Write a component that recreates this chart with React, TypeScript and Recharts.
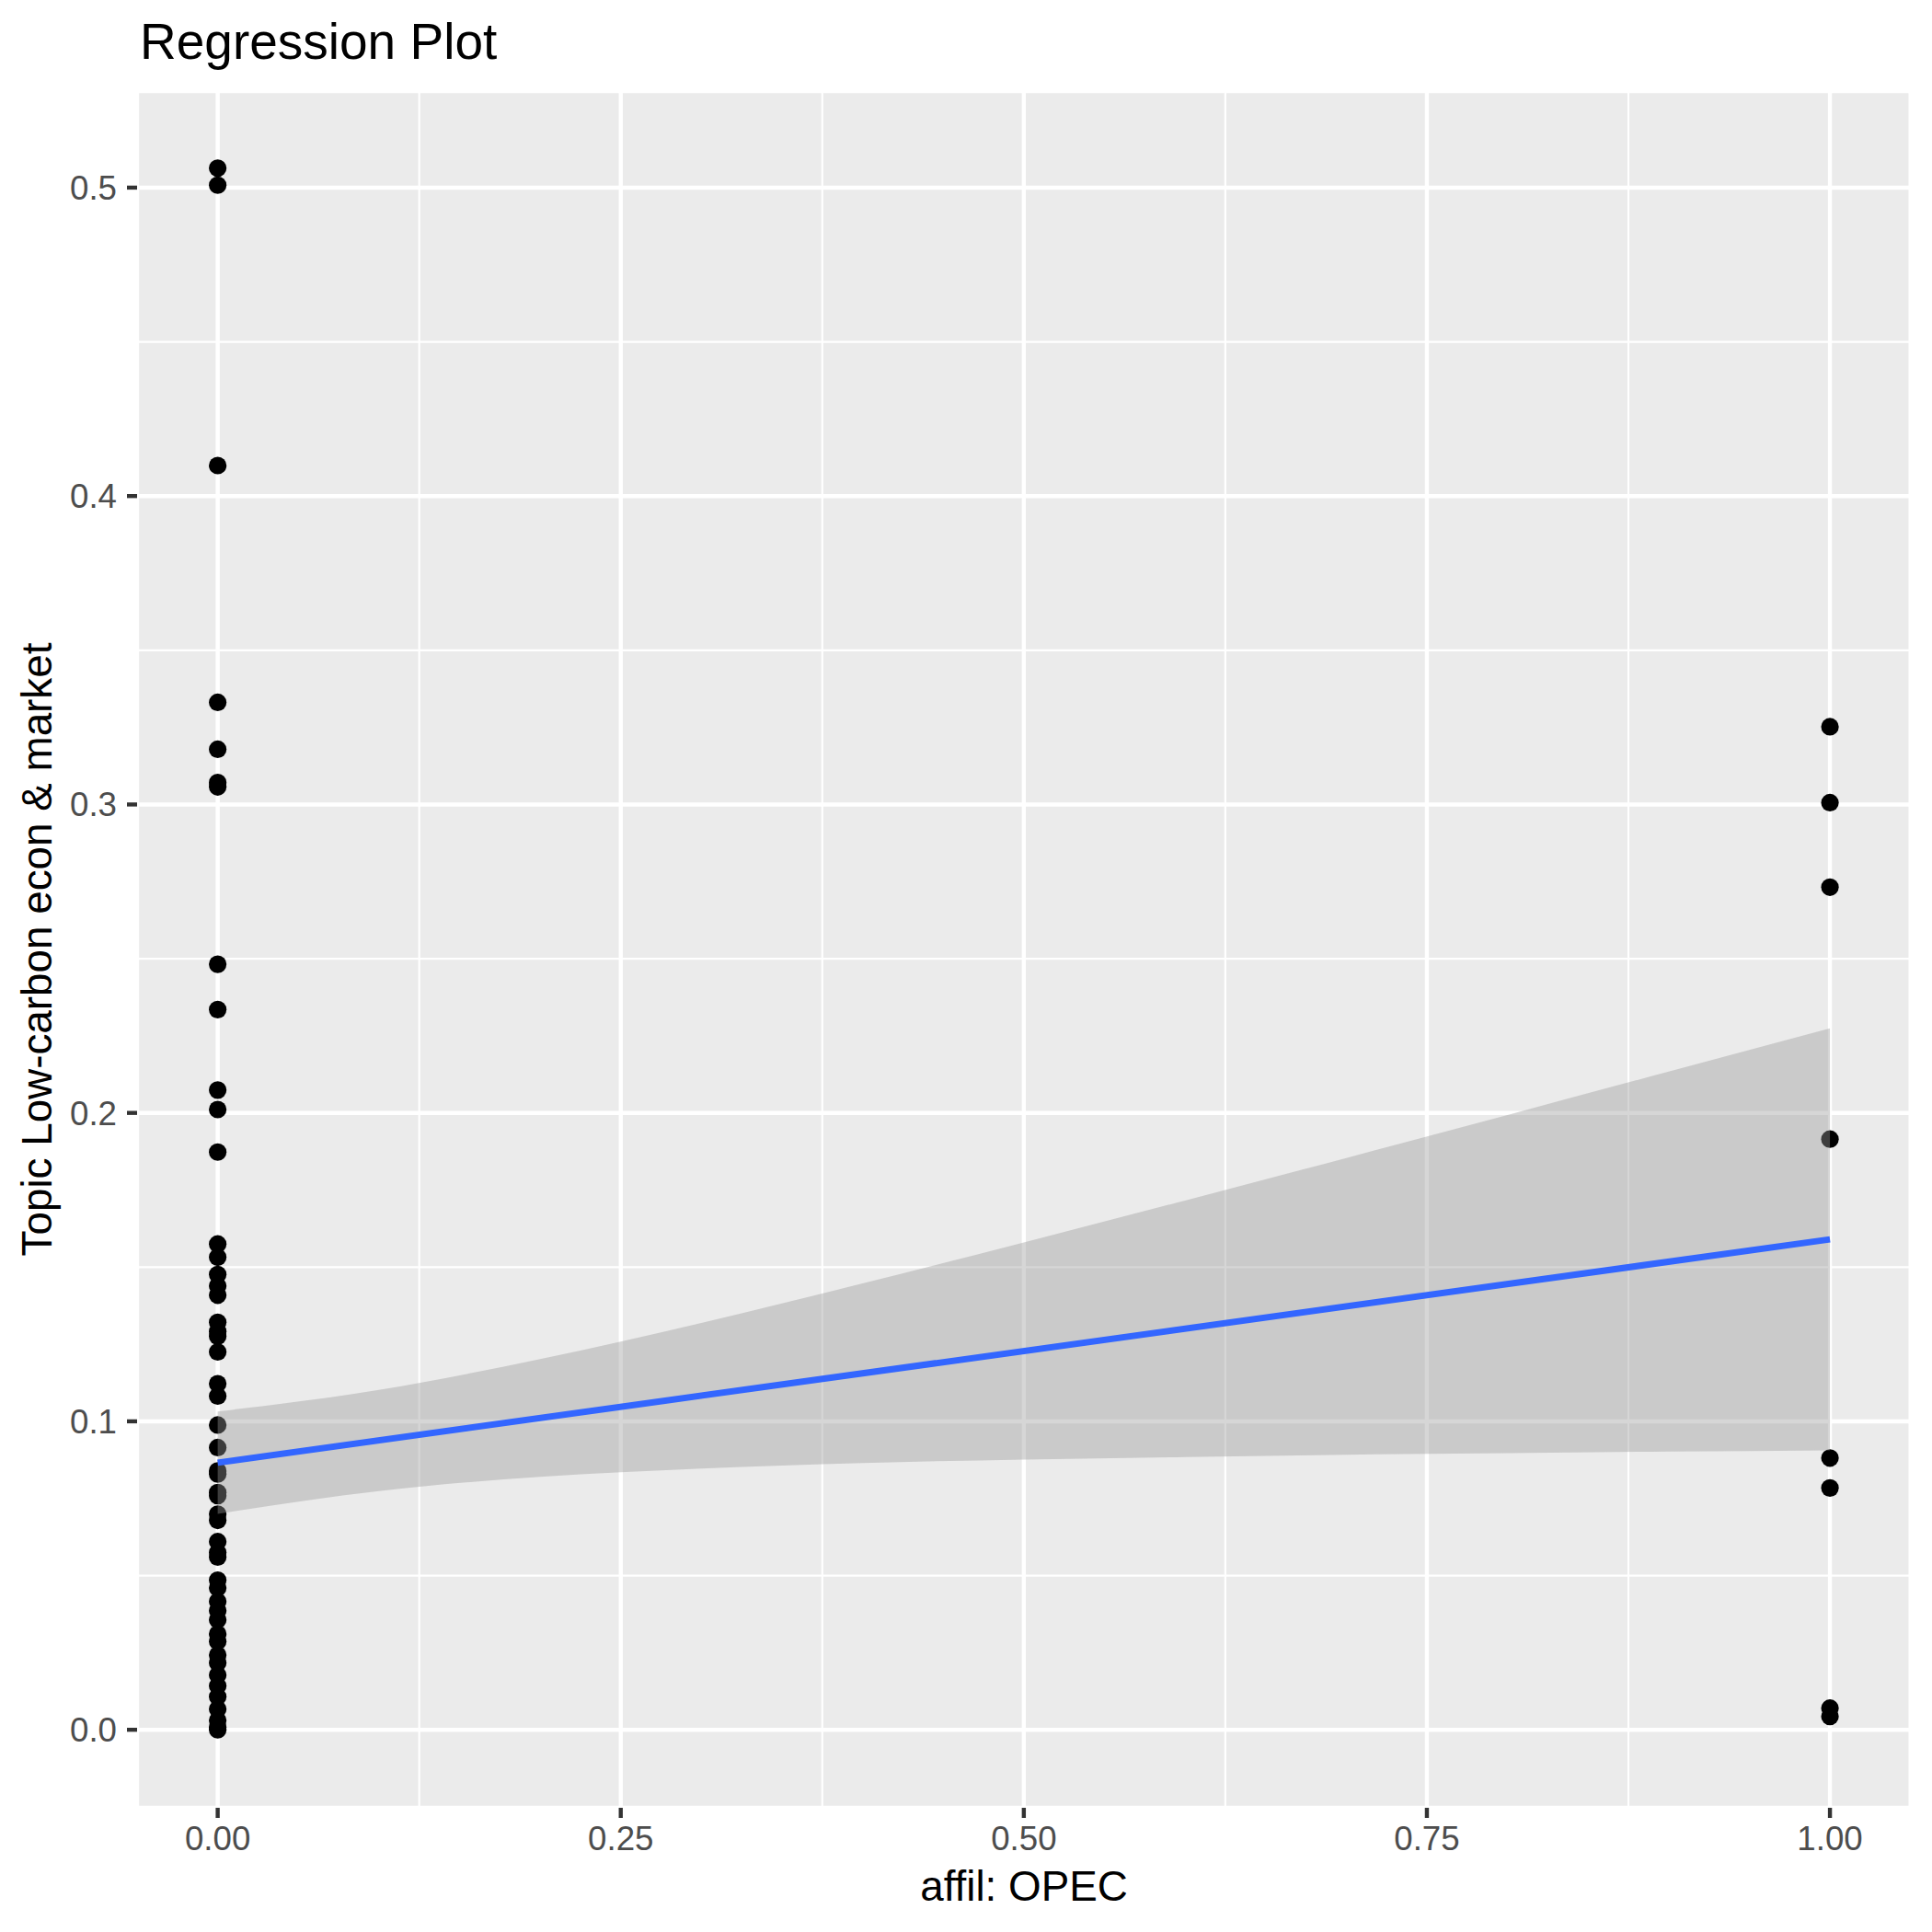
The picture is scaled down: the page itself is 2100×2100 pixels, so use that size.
import React from 'react';
import { ComposedChart, Scatter, Area, Line, XAxis, YAxis, CartesianGrid } from 'recharts';

// Observed topic proportions for non-OPEC (affil = 0) documents
const groupZeroY = [
  0.5063, 0.5008, 0.4099, 0.3331, 0.3179, 0.3071, 0.3057, 0.2482, 0.2335, 0.2074,
  0.2011, 0.1873, 0.1575, 0.1532, 0.1476, 0.1439, 0.1409, 0.1321, 0.1291, 0.1276,
  0.1225, 0.1122, 0.1082, 0.0988, 0.0915, 0.0839, 0.0829, 0.0769, 0.0759, 0.0699,
  0.0679, 0.0610, 0.0575, 0.0560, 0.0485, 0.0460, 0.0416, 0.0386, 0.0356, 0.0311,
  0.0286, 0.0242, 0.0217, 0.0177, 0.0142, 0.0107, 0.0067, 0.0030, 0.0008, 0.0,
];
// Observed topic proportions for OPEC (affil = 1) documents
const groupOneY = [0.3252, 0.3006, 0.2732, 0.1915, 0.0881, 0.0784, 0.0070, 0.0043];

// Confidence band
const bandX = [0, 0.1, 0.2, 0.3, 0.4, 0.5, 0.6, 0.7, 0.8, 0.9, 1.0];
const bandLower = [0.0700, 0.0774, 0.0820, 0.0847, 0.0865, 0.0876, 0.0884, 0.0892, 0.0897, 0.0902, 0.0906];
const bandUpper = [0.1032, 0.1102, 0.1202, 0.1319, 0.1447, 0.1580, 0.1716, 0.1854, 0.1993, 0.2134, 0.2274];

// Fitted regression line
const fitX = [0, 1];
const fitY = [0.0866, 0.1590];

const xTicks = [0, 0.25, 0.5, 0.75, 1];
const xMinorTicks = [0.125, 0.375, 0.625, 0.875];
const yTicks = [0, 0.1, 0.2, 0.3, 0.4, 0.5];
const yMinorTicks = [0.05, 0.15, 0.25, 0.35, 0.45];
const xDomain: [number, number] = [-0.05, 1.05];
const yDomain: [number, number] = [-0.0253, 0.5313];

const points = [
  ...groupZeroY.map((y) => ({ x: 0, y })),
  ...groupOneY.map((y) => ({ x: 1, y })),
];
const band = bandX.map((x, i) => ({ x, range: [bandLower[i], bandUpper[i]] }));
const fit = fitX.map((x, i) => ({ x, y: fitY[i] }));

const FONT = '"Liberation Sans", Arial, Helvetica, sans-serif';
const TICK_FS = 36.7;

const Dot = (props: any) => {
  const { cx, cy } = props;
  if (cx == null || cy == null) return null;
  return <circle cx={cx} cy={cy} r={9.6} fill="#000000" />;
};

const XTick = (props: any) => {
  const { x, y, payload } = props;
  return (
    <text x={x} y={y} dy="0.72em" textAnchor="middle" fill="#4D4D4D" fontSize={TICK_FS} fontFamily={FONT}>
      {Number(payload.value).toFixed(2)}
    </text>
  );
};

const YTick = (props: any) => {
  const { x, y, payload } = props;
  return (
    <text x={x} y={y} dy="0.355em" textAnchor="end" fill="#4D4D4D" fontSize={TICK_FS} fontFamily={FONT}>
      {Number(payload.value).toFixed(1)}
    </text>
  );
};

export default function App() {
  return (
    <div style={{ position: 'absolute', left: 0, top: 0, width: 2100, height: 2100, background: '#FFFFFF' }}>
      <ComposedChart width={2100} height={2100} margin={{ top: 99, right: 23.3, bottom: 0, left: 0 }}>
        <CartesianGrid xAxisId="minor" yAxisId="minor" stroke="#FFFFFF" strokeWidth={2.2} fill="#EBEBEB" fillOpacity={1} />
        <CartesianGrid stroke="#FFFFFF" strokeWidth={4.4} />
        <XAxis
          type="number"
          dataKey="x"
          domain={xDomain}
          allowDataOverflow
          ticks={xTicks}
          interval={0}
          height={135}
          axisLine={false}
          tickLine={{ stroke: '#333333', strokeWidth: 4.4 }}
          tickSize={11}
          tickMargin={9}
          tick={<XTick />}
        />
        <XAxis xAxisId="minor" type="number" dataKey="x" domain={xDomain} allowDataOverflow ticks={xMinorTicks} interval={0} hide />
        <YAxis
          type="number"
          dataKey="y"
          domain={yDomain}
          allowDataOverflow
          ticks={yTicks}
          interval={0}
          width={149}
          axisLine={false}
          tickLine={{ stroke: '#333333', strokeWidth: 4.4 }}
          tickSize={11}
          tickMargin={11}
          tick={<YTick />}
        />
        <YAxis yAxisId="minor" type="number" dataKey="y" domain={yDomain} allowDataOverflow ticks={yMinorTicks} interval={0} hide />
        <Scatter data={points} dataKey="y" shape={<Dot />} isAnimationActive={false} zIndex={150} />
        <Area data={band} dataKey="range" type="monotone" stroke="none" fill="#999999" fillOpacity={0.4} isAnimationActive={false} dot={false} activeDot={false} zIndex={450} />
        <Line data={fit} dataKey="y" type="linear" stroke="#3366FF" strokeWidth={7} dot={false} activeDot={false} isAnimationActive={false} zIndex={550} />
      </ComposedChart>
      <svg width={2100} height={2100} style={{ position: 'absolute', left: 0, top: 0, pointerEvents: 'none' }}>
        <text x={152} y={63.5} fontSize={55} fontFamily={FONT} fill="#000000">Regression Plot</text>
        <text x={1113} y={2066} fontSize={45.8} fontFamily={FONT} fill="#000000" textAnchor="middle">affil: OPEC</text>
        <text x={0} y={0} transform="translate(56,1032) rotate(-90)" fontSize={45.8} fontFamily={FONT} fill="#000000" textAnchor="middle">
          Topic Low-carbon econ &amp; market
        </text>
      </svg>
    </div>
  );
}
